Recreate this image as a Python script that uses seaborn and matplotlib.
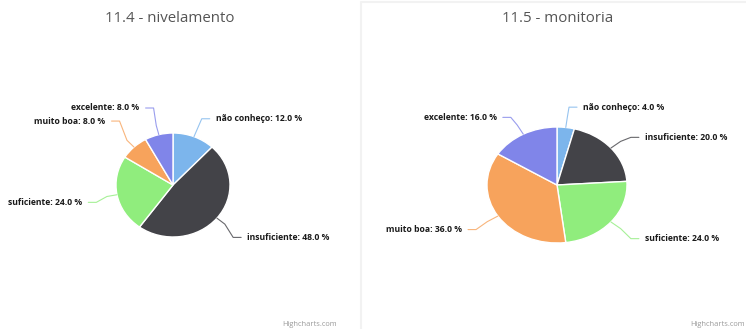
import numpy as np
import seaborn as sns
import matplotlib.pyplot as plt
from matplotlib.lines import Line2D

sns.set_theme(style="white")
plt.rcParams['font.family'] = ['Open Sans', 'DejaVu Sans']

# data
categories = ["não conheço", "insuficiente", "suficiente", "muito boa", "excelente"]
nivelamento = [12.0, 48.0, 24.0, 8.0, 8.0]
monitoria = [4.0, 20.0, 24.0, 36.0, 16.0]
titles = ["11.4 - nivelamento", "11.5 - monitoria"]

colors = ["#7cb5ec", "#434348", "#90ed7d", "#f7a35c", "#8085e9"]
palette = sns.color_palette(colors)

W, H = 746, 329
fig = plt.figure(figsize=(W / 100, H / 100), dpi=100)
fig.patch.set_facecolor("white")

# layout: pie centre and radii (px), label nudges (px, down positive)
layouts = [
    dict(cx=173, cy=185, rx=57, ry=52, title_x=170, credit_x=337,
         nudge=[0, 7, 4, -12, -8]),
    dict(cx=557, cy=185, rx=70, ry=58, title_x=558, credit_x=745,
         nudge=[1, 3, 3, 2, 2]),
]

# faint border (top + left) of the second chart panel
fig.lines.append(Line2D([360.5 / W, 360.5 / W, 1], [0, 1 - 1.5 / H, 1 - 1.5 / H],
                        transform=fig.transFigure, color="#f2f2f2", lw=1.5))

for values, title, lay in zip([nivelamento, monitoria], titles, layouts):
    cx, cy, rx, ry = lay["cx"], lay["cy"], lay["rx"], lay["ry"]
    ax = fig.add_axes([(cx - rx) / W, (H - cy - ry) / H, 2 * rx / W, 2 * ry / H])
    wedges, _ = ax.pie(values, colors=palette, startangle=90, counterclock=False,
                       radius=1, wedgeprops=dict(edgecolor="white", linewidth=1))
    ax.set_aspect("auto")
    ax.set_xlim(-1, 1)
    ax.set_ylim(-1, 1)
    ax.axis("off")

    total = sum(values)
    start = 0.0
    for i, (cat, v) in enumerate(zip(categories, values)):
        mid = np.deg2rad((start + v / 2) / total * 360)
        start += v
        s, c = np.sin(mid), np.cos(mid)
        d = 1.37
        lx = s * d
        ly = c * d - lay["nudge"][i] / ry
        side = 1 if s >= 0 else -1
        ex, ey = s * 1.0, c * 1.0
        bx, by = s * 1.18, c * 1.18
        tx = lx + side * 8 / rx
        ax.plot([ex, bx, lx, tx], [ey, by, ly, ly], color=colors[i], lw=0.8,
                alpha=0.8, clip_on=False, solid_capstyle="round")
        ax.text(lx + side * 14 / rx, ly, f"{cat}: {v:.1f} %",
                ha="left" if side > 0 else "right", va="center",
                fontsize=6.2, fontweight="bold", color="#1a1a1a", clip_on=False)

    fig.text(lay["title_x"] / W, 1 - 18 / H, title, ha="center", va="center",
             fontsize=10.8, color="#555555")
    fig.text(lay["credit_x"] / W, 1 - 324 / H, "Highcharts.com", ha="right",
             va="center", fontsize=5.4, color="#9a9a9a")

fig.savefig("out.png", dpi=100, facecolor="white")
